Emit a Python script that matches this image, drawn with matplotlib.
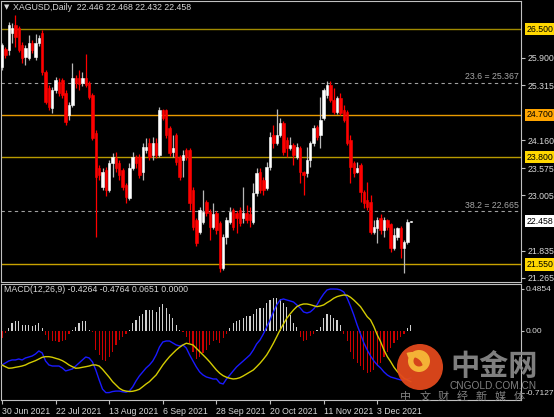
import numpy as np
import matplotlib.pyplot as plt
import matplotlib.transforms as mtransforms
from matplotlib.patches import Circle, Wedge

plt.rcParams['font.family'] = ['Liberation Sans', 'DejaVu Sans']

# XAGUSD daily candles (last one is the live bar)
opens = [25.70, 26.08, 26.06, 26.42, 26.59, 26.52, 26.17, 25.91, 25.89, 26.21,
         25.91, 26.21, 26.42, 25.60, 25.26, 24.84, 25.22, 25.39, 25.43, 25.16,
         24.70, 24.90, 25.47, 25.47, 25.37, 25.47, 25.37, 25.12, 24.32, 23.58,
         23.18, 23.54, 23.12, 23.69, 23.79, 23.69, 23.54, 23.23, 22.95, 23.58,
         23.81, 23.81, 23.50, 23.96, 24.11, 23.85, 24.11, 23.85, 24.80, 24.80,
         24.42, 23.92, 24.28, 23.81, 23.75, 23.96, 23.96, 23.12, 22.49, 22.24,
         22.45, 22.87, 22.66, 22.34, 22.64, 22.43, 21.48, 22.13, 22.45, 22.70,
         22.64, 22.70, 22.53, 22.64, 22.60, 22.45, 23.06, 23.50, 23.33, 23.16,
         23.60, 24.28, 24.11, 24.28, 24.53, 24.17, 24.00, 24.07, 23.81, 24.00,
         23.50, 23.48, 23.75, 24.11, 24.44, 24.28, 24.63, 25.12, 25.33, 25.01,
         24.76, 25.05, 24.80, 24.76, 24.17, 23.69, 23.50, 23.65, 23.08, 22.91,
         22.87, 22.24, 22.32, 22.53, 22.28, 22.49, 22.39, 21.90, 22.13, 22.32,
         21.90, 22.03, 22.446]
highs = [26.21, 26.12, 26.65, 26.63, 26.80, 26.56, 26.23, 26.17, 26.38, 26.27,
         26.40, 26.38, 26.48, 25.64, 25.33, 25.28, 25.49, 25.47, 25.47, 25.22,
         24.97, 25.79, 25.54, 25.64, 25.60, 25.98, 25.41, 25.16, 24.38, 23.65,
         23.58, 23.60, 23.75, 23.90, 23.92, 23.75, 23.58, 23.27, 23.69, 23.92,
         23.86, 23.88, 24.11, 24.21, 24.21, 24.23, 24.21, 24.86, 24.82, 24.82,
         24.46, 24.28, 24.32, 23.85, 23.96, 24.00, 24.00, 23.18, 22.53, 22.76,
         23.12, 22.91, 22.72, 22.85, 22.68, 22.47, 22.20, 22.55, 22.76, 22.74,
         22.68, 22.76, 23.18, 22.80, 22.76, 23.27, 23.58, 23.58, 23.39, 23.71,
         24.34, 24.49, 24.82, 24.63, 24.57, 24.23, 24.23, 24.11, 24.11, 24.04,
         23.52, 24.02, 24.15, 24.49, 24.49, 25.07, 25.26, 25.41, 25.41, 25.26,
         25.09, 25.16, 24.90, 24.80, 24.28, 23.73, 23.71, 23.69, 23.12, 23.29,
         23.01, 22.49, 22.55, 22.60, 22.55, 22.51, 22.43, 22.32, 22.34, 22.36,
         22.07, 22.51, 22.468]
lows = [25.64, 25.89, 25.96, 26.21, 26.12, 26.02, 25.79, 25.75, 25.85, 26.00,
        25.85, 26.14, 25.54, 24.93, 24.80, 24.74, 25.16, 25.09, 25.05, 24.49,
        24.59, 24.86, 25.26, 25.22, 25.30, 25.28, 25.03, 24.17, 22.13, 23.33,
        23.12, 22.99, 23.08, 23.39, 23.50, 23.33, 23.12, 22.85, 22.91, 23.54,
        23.58, 23.37, 23.33, 23.90, 23.75, 23.75, 23.79, 23.81, 24.59, 24.21,
        23.83, 23.81, 23.65, 23.33, 23.39, 23.75, 22.70, 22.28, 21.94, 22.18,
        22.41, 22.57, 22.07, 22.30, 22.18, 21.40, 21.44, 21.97, 22.39, 22.28,
        22.22, 22.36, 22.43, 22.43, 22.34, 22.41, 22.99, 23.06, 23.01, 23.12,
        23.54, 24.00, 24.07, 24.23, 23.85, 23.81, 23.96, 23.65, 23.77, 23.27,
        23.01, 23.39, 23.60, 24.04, 24.17, 24.00, 24.59, 25.05, 24.97, 24.72,
        24.72, 24.70, 24.55, 24.07, 23.27, 23.39, 23.48, 22.87, 22.74, 22.70,
        22.18, 22.20, 22.01, 22.18, 22.13, 22.28, 21.82, 21.86, 22.07, 21.69,
        21.38, 21.99, 22.432]
closes = [26.17, 25.96, 26.59, 26.52, 26.33, 26.06, 25.89, 26.10, 26.21, 26.06,
          26.21, 26.31, 25.60, 24.97, 24.86, 25.22, 25.43, 25.16, 25.12, 24.55,
          24.90, 25.47, 25.37, 25.35, 25.47, 25.33, 25.07, 24.21, 23.39, 23.44,
          23.50, 23.12, 23.69, 23.81, 23.58, 23.44, 23.18, 22.97, 23.58, 23.81,
          23.69, 23.44, 24.02, 24.02, 23.81, 24.11, 23.85, 24.80, 24.63, 24.28,
          23.90, 24.00, 23.71, 23.39, 23.85, 23.81, 22.85, 22.34, 22.01, 22.70,
          22.66, 22.64, 22.34, 22.60, 22.28, 21.48, 22.13, 22.49, 22.66, 22.34,
          22.53, 22.43, 22.64, 22.49, 22.49, 23.06, 23.48, 23.12, 23.12, 23.60,
          24.23, 24.11, 24.28, 24.53, 23.92, 24.00, 24.07, 23.85, 24.02, 23.50,
          23.44, 23.75, 24.11, 24.42, 24.23, 24.59, 25.22, 25.33, 25.01, 24.76,
          25.05, 24.74, 24.59, 24.11, 23.60, 23.48, 23.58, 23.08, 22.85, 22.76,
          22.24, 22.34, 22.49, 22.28, 22.49, 22.34, 21.90, 22.17, 22.32, 21.90,
          22.03, 22.45, 22.458]

# MACD(12,26,9) panel
hist = [-0.085, -0.02, 0.03, 0.09, 0.11, 0.11, 0.07, 0.07, 0.07, 0.06, 0.07, 0.09, 0.03,
        -0.05, -0.10, -0.12, -0.12, -0.13, -0.12, -0.10, -0.03,
        0.01, 0.05, 0.09, 0.11, 0.12, 0.01,
        -0.01, -0.22, -0.28, -0.34, -0.35, -0.30, -0.24, -0.16, -0.10, -0.07, -0.03,
        0.01, 0.09, 0.13, 0.17, 0.20, 0.24, 0.24, 0.24, 0.22, 0.28, 0.31, 0.26, 0.20, 0.15, 0.07, 0.01,
        -0.01, -0.07, -0.14, -0.24, -0.32, -0.30, -0.26, -0.22, -0.16, -0.12, -0.10, -0.14, -0.08, -0.03,
        0.03, 0.09, 0.12, 0.13, 0.15, 0.17, 0.17, 0.20, 0.25, 0.26, 0.26, 0.32, 0.36, 0.38, 0.38, 0.37,
        0.32, 0.28, 0.18, 0.09, 0.05,
        -0.07, -0.12, -0.10, -0.06, -0.03,
        0.01, 0.05, 0.15, 0.20, 0.18, 0.15, 0.13, 0.07,
        -0.03, -0.12, -0.24, -0.32, -0.37, -0.41, -0.45, -0.49, -0.47, -0.45, -0.41, -0.37, -0.30,
        -0.24, -0.20, -0.14, -0.10, -0.07, -0.03,
        0.03, 0.065]
macd_main = [-0.393, -0.370, -0.347, -0.335, -0.335, -0.324, -0.335, -0.312, -0.301, -0.289,
             -0.266, -0.231, -0.254, -0.347, -0.393, -0.405, -0.405, -0.405, -0.428, -0.462,
             -0.451, -0.439, -0.405, -0.370, -0.335, -0.301, -0.312, -0.358, -0.451, -0.566,
             -0.672, -0.713, -0.712, -0.700, -0.695, -0.695, -0.703, -0.708, -0.695, -0.647,
             -0.578, -0.520, -0.474, -0.428, -0.393, -0.347, -0.277, -0.185, -0.127, -0.116,
             -0.116, -0.139, -0.162, -0.173, -0.162, -0.197, -0.277, -0.347, -0.416, -0.474,
             -0.509, -0.532, -0.543, -0.555, -0.555, -0.601, -0.613, -0.555, -0.509, -0.462,
             -0.416, -0.381, -0.347, -0.312, -0.277, -0.220, -0.150, -0.104, -0.035, 0.046,
             0.127, 0.220, 0.301, 0.358, 0.370, 0.358, 0.347, 0.335, 0.301, 0.266,
             0.220, 0.208, 0.220, 0.254, 0.301, 0.370, 0.428, 0.474, 0.485, 0.485,
             0.484, 0.474, 0.451, 0.382, 0.289, 0.185, 0.069, -0.035, -0.139, -0.220,
             -0.289, -0.347, -0.393, -0.428, -0.474, -0.509, -0.532, -0.543, -0.555, -0.566,
             -0.566, -0.555, -0.543]
macd_signal = [-0.393, -0.413, -0.431, -0.428, -0.420, -0.413, -0.405, -0.393, -0.373, -0.358,
               -0.343, -0.324, -0.304, -0.297, -0.297, -0.304, -0.316, -0.327, -0.343, -0.366,
               -0.393, -0.413, -0.431, -0.428, -0.420, -0.413, -0.405, -0.393, -0.393, -0.405,
               -0.443, -0.489, -0.535, -0.586, -0.624, -0.662, -0.685, -0.695, -0.700, -0.697,
               -0.688, -0.674, -0.644, -0.613, -0.586, -0.547, -0.509, -0.451, -0.393, -0.343,
               -0.297, -0.258, -0.220, -0.188, -0.162, -0.142, -0.150, -0.162, -0.200, -0.239,
               -0.277, -0.316, -0.358, -0.405, -0.451, -0.489, -0.517, -0.535, -0.547, -0.555,
               -0.551, -0.540, -0.520, -0.497, -0.474, -0.451, -0.413, -0.373, -0.327, -0.277,
               -0.212, -0.142, -0.066, 0.012, 0.081, 0.147, 0.197, 0.243, 0.281, 0.301,
               0.312, 0.312, 0.304, 0.292, 0.281, 0.289, 0.301, 0.327, 0.350, 0.378,
               0.397, 0.408, 0.416, 0.413, 0.390, 0.358, 0.320, 0.281, 0.223, 0.165,
               0.127, 0.050, -0.046, -0.124, -0.220, -0.297, -0.355, -0.420, -0.470, -0.509,
               -0.547, -0.566, -0.586]

date_bars = [0, 16, 32, 48, 64, 80, 96, 112]
date_labels = ['30 Jun 2021', '22 Jul 2021', '13 Aug 2021', '6 Sep 2021',
               '28 Sep 2021', '20 Oct 2021', '11 Nov 2021', '3 Dec 2021']
price_ticks = [25.900, 25.315, 24.160, 23.575, 23.005, 21.835, 21.265]
levels = [26.500, 24.700, 23.800, 21.550]
level_colors = ['#a08a00', '#e89a00', '#b89a00', '#c8a200']
level_boxes = ['#ffd700', '#ffa500', '#ffd700', '#ffd700']
fib_levels = [25.367, 22.665]
fib_names = ['23.6', '38.2']
macd_ticks = [0.4854, 0.0, -0.7127]
macd_tick_labels = ['0.4854', '0.00', '-0.7127']

W, H = 554, 417
txt = '#d8d8d8'
frame = '#c0c0c0'


def box(x0, y0, x1, y1):
    return [x0 / W, 1 - y1 / H, (x1 - x0) / W, (y1 - y0) / H]


fig = plt.figure(figsize=(W / 100, H / 100), dpi=100, facecolor='black')
ax = fig.add_axes(box(1, 1, 521, 282), facecolor='black')
ax2 = fig.add_axes(box(1, 284, 521, 400), facecolor='black')

x = np.arange(len(closes))
o = np.array(opens)
c = np.array(closes)
hi = np.array(highs)
lo = np.array(lows)
up = c >= o

# levels and fibo lines behind the candles
for lv, col in zip(levels, level_colors):
    ax.axhline(lv, color=col, lw=1.0, zorder=1)
for fv in fib_levels:
    ax.axhline(fv, color='#a0a0a0', lw=0.8, ls=(0, (3, 3)), zorder=1)

ax.vlines(x[up], lo[up], hi[up], color='#b8b8b8', lw=0.9, zorder=2)
ax.vlines(x[~up], lo[~up], hi[~up], color='#ff0000', lw=0.9, zorder=2)
ax.bar(x[up], (c - o)[up], bottom=o[up], width=0.72, color='white',
       edgecolor='white', lw=0.4, zorder=3)
ax.bar(x[~up], (o - c)[~up], bottom=c[~up], width=0.72, color='#ff0000',
       edgecolor='#ff0000', lw=0.4, zorder=3)

ax.set_xlim(-0.3, 154.9)
ax.set_ylim(21.1805, 27.089)
ax.set_xticks([])
ax.yaxis.tick_right()
ax.set_yticks(price_ticks)
ax.set_yticklabels(['%.3f' % t for t in price_ticks])
ax.tick_params(axis='y', colors=frame, labelcolor=txt, labelsize=6.3,
               length=3, width=0.8, pad=2)

blend = mtransforms.blended_transform_factory(ax.transAxes, ax.transData)
for fv, name in zip(fib_levels, fib_names):
    ax.text(0.996, fv + 0.03, '%s = %.3f' % (name, fv), transform=blend,
            ha='right', va='bottom', color='#a8a8a8', fontsize=6.3)
for lv, bc in zip(levels, level_boxes):
    ax.text(1.01, lv, '%.3f' % lv, transform=blend, ha='left', va='center',
            color='black', fontsize=6.3, clip_on=False,
            bbox=dict(boxstyle='square,pad=0.18', fc=bc, ec='none'))
ax.text(1.01, closes[-1], '%.3f' % closes[-1], transform=blend, ha='left',
        va='center', color='black', fontsize=6.3, clip_on=False,
        bbox=dict(boxstyle='square,pad=0.18', fc='white', ec='none'))

# MACD
hcol = ['#d0d0d0' if v >= 0 else '#cc0000' for v in hist]
ax2.bar(x, hist, width=0.35, color=hcol, zorder=2)
ax2.plot(x, macd_main, color='#1a1aff', lw=1.0, zorder=3)
ax2.plot(x, macd_signal, color='#d4cc00', lw=1.0, zorder=3)
ax2.set_xlim(-0.3, 154.9)
ax2.set_ylim(-0.798, 0.543)
ax2.yaxis.tick_right()
ax2.set_yticks(macd_ticks)
ax2.set_yticklabels(macd_tick_labels)
ax2.tick_params(axis='y', colors=frame, labelcolor=txt, labelsize=6.0,
                length=2.5, width=0.8, pad=1)
ax2.set_xticks(date_bars)
ax2.set_xticklabels(date_labels, ha='left')
ax2.tick_params(axis='x', colors=frame, labelcolor=txt, labelsize=6.3,
                length=3, width=0.8, pad=2)

for a in (ax, ax2):
    for s in a.spines.values():
        s.set_color(frame)
        s.set_linewidth(0.8)

fig.text(4 / W, 1 - 7 / H, '\u25bc', color=txt, fontsize=5, va='center',
         family=['DejaVu Sans'])
fig.text(13 / W, 1 - 7 / H, 'XAGUSD,Daily  22.446 22.468 22.432 22.458',
         color=txt, fontsize=6.3, va='center')
fig.text(4 / W, 1 - 290 / H, 'MACD(12,26,9) -0.4264 -0.4764 0.0651 0.0000',
         color=txt, fontsize=6.3, va='center')

# watermark overlay in pixel coordinates
wm = fig.add_axes([0, 0, 1, 1], facecolor='none')
wm.set_xlim(0, W)
wm.set_ylim(H, 0)
wm.axis('off')
wm.add_patch(Circle((420, 367), 23, fc='#e2481c', ec='none', alpha=0.95))
wm.add_patch(Wedge((419, 361), 11, 0, 360, width=5.5, fc='#f4b236', ec='none'))
wm.add_patch(Wedge((412, 368), 16, 250, 345, width=5, fc='#f4b236', ec='none'))
wm.text(494, 366, '中金网', color='#8e8e8e', fontsize=21, ha='center',
        va='center', fontweight='bold', alpha=0.9, family=['Noto Sans CJK SC'])
wm.text(493, 386, 'CNGOLD.COM.CN', color='#8e8e8e', fontsize=7.3, ha='center',
        va='center', alpha=0.9)
for k, ch in enumerate('中文财经新媒体'):
    wm.text(406 + k * 18.8, 397, ch, color='#8e8e8e', fontsize=8, ha='center',
            va='center', alpha=0.9, family=['Noto Sans CJK SC'])

fig.savefig('out.png', dpi=100, facecolor='black')
